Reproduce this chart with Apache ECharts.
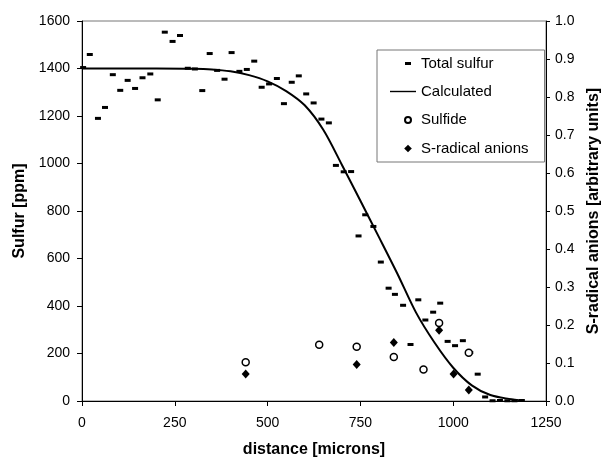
<!DOCTYPE html>
<html>
<head>
<meta charset="utf-8">
<script src="https://cdn.jsdelivr.net/npm/echarts@6/dist/echarts.min.js"></script>
<style>
html,body{margin:0;padding:0;background:#fff;}
#c{width:610px;height:463px;}
</style>
</head>
<body>
<div id="c"></div>
<script>
// ---- data ----
var totalSulfur = [
  [3,1404],[21,1459],[43,1190],[62,1236],[83,1374],[103,1308],[123,1350],[143,1316],
  [163,1361],[184,1377],[204,1268],[223,1553],[244,1514],[264,1539],[285,1401],[304,1398],
  [324,1307],[344,1463],[364,1392],[384,1355],[403,1467],[424,1388],[444,1396],[464,1431],
  [484,1321],[504,1335],[525,1358],[544,1252],[565,1342],[584,1369],[604,1293],[624,1255],
  [645,1187],[665,1171],[684,992],[705,965],[725,966],[745,695],[763,784],[785,735],
  [805,585],[826,475],[843,449],[865,403],[885,238],[906,426],[925,341],[946,374],
  [965,412],[985,251],[1005,233],[1026,254],[1046,204],[1066,113],[1086,17],[1106,1],
  [1126,2],[1146,1],[1165,1],[1185,2]
];
var calculated = [
  [0,1400],[100,1400],[200,1400],[300,1399],[350,1396],[400,1388],[450,1372],[500,1346],
  [550,1305],[600,1245],[650,1142],[700,995],[750,843],[800,690],[850,535],[900,372],
  [950,245],[1000,140],[1050,66],[1100,25],[1150,9],[1190,2]
];
var sulfide = [
  [441,0.102],[639,0.148],[740,0.143],[840,0.116],[920,0.083],[962,0.205],[1042,0.127]
];
var sRadical = [
  [441,0.071],[740,0.096],[840,0.154],[962,0.186],[1001,0.071],[1042,0.029]
];
var xTicks = [0,250,500,750,1000,1250];
var yLeftTicks = [0,200,400,600,800,1000,1200,1400,1600];
var yRightTicks = [0.0,0.1,0.2,0.3,0.4,0.5,0.6,0.7,0.8,0.9,1.0];
var names = ['Total sulfur','Calculated','Sulfide','S-radical anions'];

var FONT = 'Liberation Sans, Arial, sans-serif';
var chart = echarts.init(document.getElementById('c'), null, {renderer:'canvas'});
var axisText = {color:'#000', fontFamily:FONT, fontSize:14};
var nameText = {color:'#000', fontFamily:FONT, fontSize:16, fontWeight:'bold'};
function plain(v){ return String(v); }

chart.setOption({
  backgroundColor:'#fff',
  animation:false,
  grid:{left:82, right:57, top:21, bottom:56, show:true, borderColor:'#777', borderWidth:1},
  legend:{
    orient:'vertical', left:377, top:50,
    padding:[6,16,6,12],
    borderColor:'#777', borderWidth:1,
    itemWidth:26, itemHeight:14, itemGap:13,
    textStyle:{color:'#000', fontFamily:FONT, fontSize:15},
    data:[
      {name:names[0], icon:'path://M0,0M26,14M15,5.5h6v3h-6z'},
      {name:names[1], icon:'path://M0,0M26,14M0,6.3h26v1.4h-26z', itemStyle:{color:'#000', borderWidth:0}},
      {name:names[2], icon:'path://M0,0M26,14M21,7a3,3 0 1,0 -6,0a3,3 0 1,0 6,0z'},
      {name:names[3], icon:'path://M0,0M26,14M18,3.2L21.8,7L18,10.8L14.2,7z'}
    ]
  },
  xAxis:{
    type:'value', min:xTicks[0], max:xTicks[xTicks.length-1], interval:xTicks[1]-xTicks[0],
    name:'distance [microns]', nameLocation:'middle', nameGap:41, nameTextStyle:nameText,
    axisLine:{show:true, lineStyle:{color:'#000', width:1}},
    axisTick:{show:true, length:5, lineStyle:{color:'#000'}},
    axisLabel:Object.assign({margin:15, formatter:plain}, axisText),
    splitLine:{show:false}
  },
  yAxis:[{
    type:'value', min:yLeftTicks[0], max:yLeftTicks[yLeftTicks.length-1], interval:yLeftTicks[1]-yLeftTicks[0],
    name:'Sulfur [ppm]', nameLocation:'middle', nameGap:54, nameRotate:90, nameTextStyle:nameText,
    axisLine:{show:true, lineStyle:{color:'#000', width:1}},
    axisTick:{show:true, length:5, lineStyle:{color:'#000'}},
    axisLabel:Object.assign({margin:12, formatter:plain}, axisText),
    splitLine:{show:false}
  },{
    type:'value', position:'right', min:yRightTicks[0], max:yRightTicks[yRightTicks.length-1], interval:0.1,
    name:'S-radical anions [arbitrary units]', nameLocation:'middle', nameGap:40, nameRotate:90, nameTextStyle:nameText,
    axisLine:{show:true, lineStyle:{color:'#000', width:1}},
    axisTick:{show:true, length:4, lineStyle:{color:'#000'}},
    axisLabel:Object.assign({margin:9, formatter:function(v){return v.toFixed(1);}}, axisText),
    splitLine:{show:false}
  }],
  series:[
    {name:names[1], type:'line', data:calculated, smooth:0.3, symbol:'none', showSymbol:false,
     lineStyle:{color:'#000', width:2}, itemStyle:{color:'#000'}, z:2},
    {name:names[0], type:'scatter', data:totalSulfur, symbol:'rect', symbolSize:[6,3],
     itemStyle:{color:'#000', opacity:1}, z:3},
    {name:names[2], type:'scatter', yAxisIndex:1, data:sulfide, symbol:'circle', symbolSize:7,
     itemStyle:{color:'#fff', borderColor:'#000', borderWidth:1.5, opacity:1}, z:4},
    {name:names[3], type:'scatter', yAxisIndex:1, data:sRadical, symbol:'diamond', symbolSize:[8,9],
     itemStyle:{color:'#000', opacity:1}, z:5}
  ]
});
</script>
</body>
</html>
